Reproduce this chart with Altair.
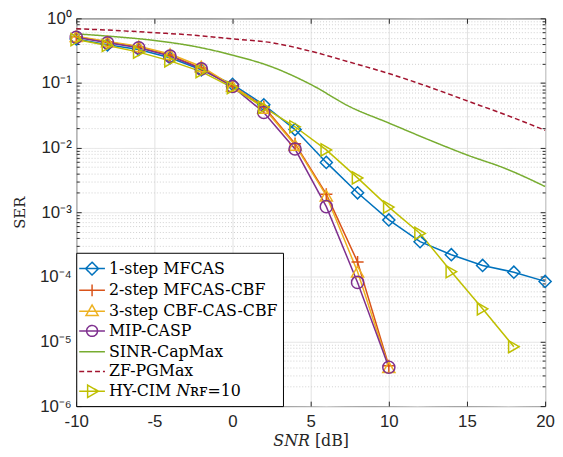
import altair as alt
import pandas as pd

# ---------------- data ----------------
snr_full = [-10, -8, -6, -4, -2, 0, 2, 4, 6, 8, 10, 12, 14, 16, 18, 20]
snr_short = [-10, -8, -6, -4, -2, 0, 2, 4, 6, 8, 10]
snr_hy = [-10, -8, -6, -4, -2, 0, 2, 4, 6, 8, 10, 12, 14, 16, 18]
snr_smooth = [-10, -7.5, -5, -2.5, 0, 2.5, 5, 7.5, 10, 12.5, 15, 17.5, 20]

ser_mfcas1 = [0.48, 0.39, 0.33, 0.245, 0.16, 0.095, 0.046, 0.019, 0.0059, 0.002,
              0.00076, 0.00035, 0.00022, 0.00015, 0.000118, 0.000085]
ser_mfcas_cbf2 = [0.52, 0.43, 0.36, 0.27, 0.17, 0.09, 0.043, 0.0115, 0.0019, 0.00017, 0.0000042]
ser_cbf3 = [0.53, 0.44, 0.37, 0.28, 0.18, 0.09, 0.041, 0.011, 0.0018, 0.00012, 0.0000040]
ser_mip = [0.51, 0.42, 0.35, 0.26, 0.165, 0.088, 0.035, 0.0095, 0.00122, 0.000082, 0.0000040]
ser_sinr = [0.575, 0.52, 0.455, 0.37, 0.27, 0.178, 0.095, 0.043, 0.024, 0.0134, 0.0077, 0.0047, 0.0025]
ser_zf = [0.69, 0.65, 0.6, 0.55, 0.48, 0.42, 0.31, 0.21, 0.14, 0.088, 0.053, 0.032, 0.0185]
ser_hycim = [0.47, 0.38, 0.3, 0.22, 0.15, 0.085, 0.042, 0.021, 0.0092, 0.0034,
             0.0012, 0.00047, 0.00012, 0.000032, 0.0000083]

names = ["1-step MFCAS", "2-step MFCAS-CBF", "3-step CBF-CAS-CBF", "MIP-CASP",
         "SINR-CapMax", "ZF-PGMax", "HY-CIM 𝑁ʀꜰ=10"]
colors = ["#0072BD", "#D95319", "#EDB120", "#7E2F8E", "#77AC30", "#A2142F", "#BFBF00"]

marker_names = [names[0], names[1], names[2], names[3], names[6]]
plus_path = "M-1,0H1M0,-1V1"
marker_shapes = ["diamond", plus_path, "triangle-up", "circle", "triangle-right"]

x_ticks = [-10, -5, 0, 5, 10, 15, 20]

# ---------------- tables ----------------
def table(name, xs, ys):
    return pd.DataFrame({"series": name, "snr": xs, "ser": ys})

marked = pd.concat([
    table(names[0], snr_full, ser_mfcas1),
    table(names[1], snr_short, ser_mfcas_cbf2),
    table(names[2], snr_short, ser_cbf3),
    table(names[3], snr_short, ser_mip),
    table(names[6], snr_hy, ser_hycim),
])
smooth = pd.concat([
    table(names[4], snr_smooth, ser_sinr),
    table(names[5], snr_smooth, ser_zf),
])

y_vals = []
for e in range(-6, 1):
    for m in range(1, 10):
        v = float(f"{m}e{e}")
        if v <= 1:
            y_vals.append(v)

dec = "abs(log(datum.value)/LN10 - round(log(datum.value)/LN10)) < 1e-6"
sup_labels = "['10⁰','10⁻¹','10⁻²','10⁻³','10⁻⁴','10⁻⁵','10⁻⁶']"
y_label_expr = f"{dec} ? {sup_labels}[-round(log(datum.value)/LN10)] : ''"

W, H = 474, 392
TXT = "#262626"
x_scale = alt.Scale(domain=[-10, 20], nice=False, zero=False)
y_scale = alt.Scale(type="log", domain=[1e-6, 1], nice=False)

x_enc = alt.X("snr:Q", scale=x_scale,
              axis=alt.Axis(values=x_ticks, labelExpr="datum.value + ''", labelFlush=False,
                            title="𝑆𝑁𝑅 [dB]", titleFont="DejaVu Serif", titleFontSize=16,
                            titleFontWeight="normal", titleColor=TXT, titlePadding=3,
                            labelFont="Liberation Sans", labelFontSize=17, labelColor=TXT,
                            labelPadding=8, tickSize=0, domain=False,
                            gridColor="#e2e2e2", gridWidth=1))
y_enc = alt.Y("ser:Q", scale=y_scale,
              axis=alt.Axis(values=y_vals, labelExpr=y_label_expr, labelOverlap=False,
                            labelFlush=False,
                            title="SER", titleFont="DejaVu Serif", titleFontSize=15,
                            titleFontWeight="normal", titleColor=TXT, titlePadding=12,
                            labelFont="Liberation Sans", labelFontSize=17, labelColor=TXT,
                            labelPadding=5, tickSize=0, domain=False,
                            gridColor={"condition": {"test": dec, "value": "#e2e2e2"}, "value": "#d0d0d0"},
                            gridDash={"condition": {"test": dec, "value": [1, 0]}, "value": [1, 2]},
                            gridWidth=1))

# legend symbol paths (line + marker), unit = half of sqrt(symbolSize)
L = "M-1.3,0H1.3"
legend_paths = [
    L + "M0,-0.65L0.65,0L0,0.65L-0.65,0Z",
    L + "M0,-0.6V0.6",
    L + "M0,-0.62L0.62,0.45L-0.62,0.45Z",
    L + "M0.55,0A0.55,0.55,0,1,1,-0.55,0A0.55,0.55,0,1,1,0.55,0",
    L,
    L,
    L + "M-0.45,-0.62L0.65,0L-0.45,0.62Z",
]
shape_sig = "'" + legend_paths[-1] + "'"
for n, p in reversed(list(zip(names[:-1], legend_paths[:-1]))):
    shape_sig = f"datum.value === '{n}' ? '{p}' : ({shape_sig})"
dash_sig = f"datum.value === '{names[5]}' ? [5, 3] : [1, 0]"

legend = alt.Legend(
    title=None, orient="bottom-left", offset=0, padding=5,
    strokeColor="black", fillColor="white", cornerRadius=0,
    labelFont="DejaVu Serif", labelFontSize=16, labelColor="#000000",
    labelLimit=400, labelOffset=6, symbolSize=400, rowPadding=1.0,
    symbolType={"expr": shape_sig},
    symbolDash={"expr": dash_sig},
    symbolFillColor="transparent",
    symbolStrokeWidth=1.5,
    symbolOpacity=1,
)
color_enc = alt.Color("series:N", scale=alt.Scale(domain=names, range=colors), legend=legend)

lines_marked = alt.Chart(marked).mark_line(strokeWidth=1.5).encode(
    x=x_enc, y=y_enc, color=color_enc)

lines_smooth = alt.Chart(smooth).mark_line(strokeWidth=1.5, interpolate="monotone").encode(
    x=x_enc, y=y_enc, color=color_enc,
    strokeDash=alt.StrokeDash("series:N",
                              scale=alt.Scale(domain=[names[4], names[5]], range=[[1, 0], [5, 3]]),
                              legend=None))

points = alt.Chart(marked).mark_point(filled=False, strokeWidth=1.5, size=150, opacity=1).encode(
    x=x_enc, y=y_enc, color=color_enc,
    shape=alt.Shape("series:N", scale=alt.Scale(domain=marker_names, range=marker_shapes), legend=None))

data_layer = alt.layer(lines_smooth, lines_marked, points)

# inward tick marks on all four sides (axes moved across the plot with a negative offset)
tick_sz_y = {"condition": {"test": dec, "value": 5}, "value": 3}

def tick_layer(x_orient, y_orient):
    return alt.Chart(marked).mark_point(opacity=0).encode(
        x=alt.X("snr:Q", scale=x_scale,
                axis=alt.Axis(orient=x_orient, offset=-H, values=x_ticks, labels=False,
                              grid=False, domain=False, title=None, tickSize=5,
                              tickColor=TXT, tickWidth=1)),
        y=alt.Y("ser:Q", scale=y_scale,
                axis=alt.Axis(orient=y_orient, offset=-W, values=y_vals, labels=False,
                              grid=False, domain=False, title=None, tickSize=tick_sz_y,
                              tickColor=TXT, tickWidth=1)),
    )

chart = alt.layer(
    data_layer, tick_layer("top", "right"), tick_layer("bottom", "left")
).resolve_axis(x="independent", y="independent").properties(
    width=W, height=H,
    padding={"left": 69, "top": 8, "right": 10, "bottom": 49},
    autosize=alt.AutoSizeParams(type="none"),
    background="white",
).configure_view(stroke="black", strokeWidth=1)

chart.save("out.html", embed_options={"renderer": "svg", "actions": False})
